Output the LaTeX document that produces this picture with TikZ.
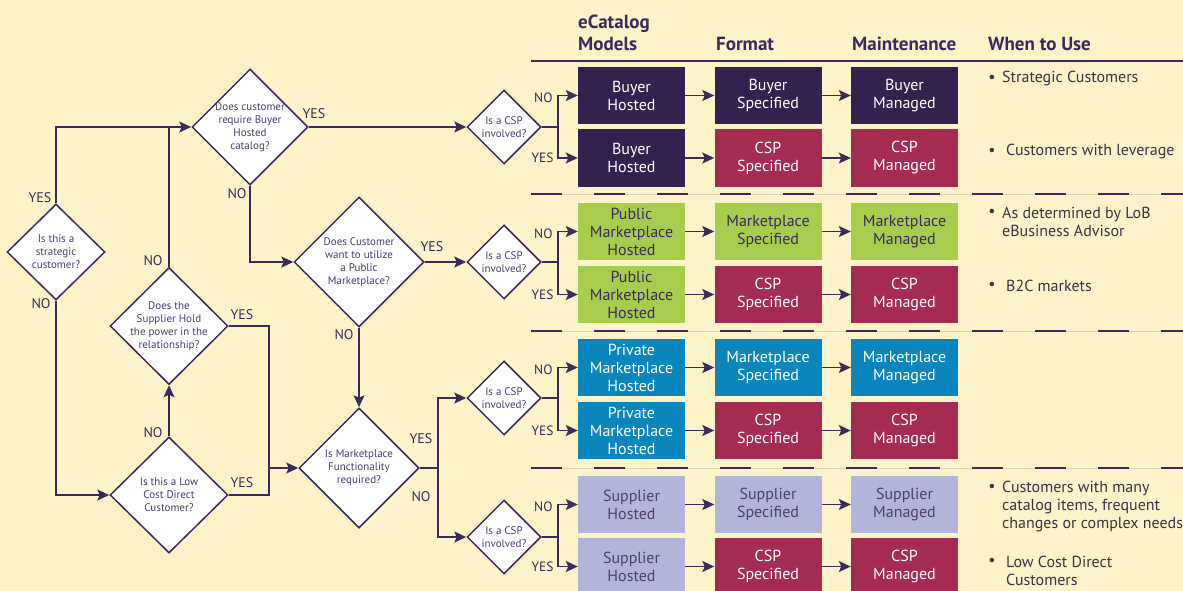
\documentclass[tikz,border=0pt]{standalone}
\usepackage{fontspec}
\setmainfont{PT Sans}
\usetikzlibrary{shapes.geometric,arrows.meta,calc}
\definecolor{bg}{HTML}{FDF3C9}
\definecolor{ln}{HTML}{3A2A5C}
\definecolor{dk}{HTML}{33214F}
\definecolor{csp}{HTML}{A52B52}
\definecolor{grn}{HTML}{A6CD4E}
\definecolor{blu}{HTML}{0A86BD}
\definecolor{lav}{HTML}{B3B4D9}
\definecolor{lavtxt}{HTML}{4B3F72}
\definecolor{dtxt}{HTML}{4B3C68}
\definecolor{bt}{HTML}{3A3340}
\definecolor{faint}{HTML}{DCD3B4}
\begin{document}
\begin{tikzpicture}[x=1pt,y=-1pt,
  line/.style={draw=ln, line width=1.5pt},
  arr/.style={line, -{Stealth[length=12pt,width=11pt,inset=2.5pt]}},
  dec/.style={diamond, draw=ln, line width=1.5pt, fill=white, inner sep=0pt},
  dtext/.style={font=\fontsize{11}{13}\selectfont, text=dtxt, align=center, inner sep=0pt},
  yn/.style={font=\fontsize{14}{16}\selectfont, text=ln, inner sep=0pt},
  yns/.style={font=\fontsize{13.5}{16}\selectfont, text=ln, inner sep=0pt, anchor=east},
  box/.style={minimum width=107pt, minimum height=57pt, inner sep=0pt, align=center, font=\fontsize{16}{18}\selectfont},
  bdk/.style={box, fill=dk, text=white},
  bcsp/.style={box, fill=csp, text=white},
  bgrn/.style={box, fill=grn, text=ln},
  bblu/.style={box, fill=blu, text=white},
  blav/.style={box, fill=lav, text=lavtxt},
  hdr/.style={font=\bfseries\fontsize{19}{22}\selectfont, text=ln, inner sep=0pt, anchor=base west},
  btext/.style={font=\fontsize{16}{18}\selectfont, text=bt, inner sep=0pt, align=left, anchor=west},
  bul/.style={font=\fontsize{16}{18}\selectfont, text=bt, inner sep=0pt},
  sep/.style={draw=ln, line width=1.5pt},
  dsep/.style={draw=ln, line width=1.6pt, dash pattern=on 31pt off 32pt}
]
\fill[bg] (0,0) rectangle (1183,591);
\useasboundingbox (0,0) rectangle (1183,591);

% headers
\node[hdr] (h0) at (578,29) {eCatalog};
\node[hdr] (h1) at (578,51) {Models};
\node[hdr] (h2) at (716,51) {Format};
\node[hdr] (h3) at (852,51) {Maintenance};
\node[hdr] (h4) at (988,51) {When to Use};

% separators
\draw[sep] (531,61) -- (1183,61);
\foreach \yy in {194,331,468}{
  \draw[draw=faint, line width=1pt] (531,\yy) -- (1183,\yy);
  \draw[dsep] (531,\yy) -- (1183,\yy);
}

% boxes
\node[bdk]  (m1a) at (631.5,95.5) {Buyer\\Hosted};
\node[bdk]  (f1a) at (768,95.5)   {Buyer\\Specified};
\node[bdk]  (t1a) at (904.5,95.5) {Buyer\\Managed};
\node[bdk]  (m1b) at (631.5,158)  {Buyer\\Hosted};
\node[bcsp] (f1b) at (768,158)    {CSP\\Specified};
\node[bcsp] (t1b) at (904.5,158)  {CSP\\Managed};

\node[bgrn] (m2a) at (631.5,231.5) {Public\\Marketplace\\Hosted};
\node[bgrn] (f2a) at (768,231.5)   {Marketplace\\Specified};
\node[bgrn] (t2a) at (904.5,231.5) {Marketplace\\Managed};
\node[bgrn] (m2b) at (631.5,294.5) {Public\\Marketplace\\Hosted};
\node[bcsp] (f2b) at (768,294.5)   {CSP\\Specified};
\node[bcsp] (t2b) at (904.5,294.5) {CSP\\Managed};

\node[bblu] (m3a) at (631.5,367.5) {Private\\Marketplace\\Hosted};
\node[bblu] (f3a) at (768,367.5)   {Marketplace\\Specified};
\node[bblu] (t3a) at (904.5,367.5) {Marketplace\\Managed};
\node[bblu] (m3b) at (631.5,430.5) {Private\\Marketplace\\Hosted};
\node[bcsp] (f3b) at (768,430.5)   {CSP\\Specified};
\node[bcsp] (t3b) at (904.5,430.5) {CSP\\Managed};

\node[blav] (m4a) at (631.5,504.5) {Supplier\\Hosted};
\node[blav] (f4a) at (768,504.5)   {Supplier\\Specified};
\node[blav] (t4a) at (904.5,504.5) {Supplier\\Managed};
\node[blav] (m4b) at (631.5,566.5) {Supplier\\Hosted};
\node[bcsp] (f4b) at (768,566.5)   {CSP\\Specified};
\node[bcsp] (t4b) at (904.5,566.5) {CSP\\Managed};

\foreach \g in {1,2,3,4}{
  \foreach \r in {a,b}{
    \draw[arr] (m\g\r) -- (f\g\r);
    \draw[arr] (f\g\r) -- (t\g\r);
  }
}

% when to use
\node[bul] (u1) at (992,79) {•};
\node[btext] (w1) at (1002,79) {Strategic Customers};
\node[bul] (u2) at (992,152) {•};
\node[btext] (w2) at (1006,152) {Customers with leverage};
\node[bul] (u3) at (992,213) {•};
\node[btext] (w3) at (1002,222) {As determined by LoB\\eBusiness Advisor};
\node[bul] (u4) at (992,286) {•};
\node[btext] (w4) at (1006,286) {B2C markets};
\node[bul] (u5) at (992,488) {•};
\node[btext] (w5) at (1002,506.5) {Customers with many\\catalog items, frequent\\changes or complex needs};
\node[bul] (u6) at (992,562) {•};
\node[btext] (w6) at (1006,571) {Low Cost Direct\\Customers};

% decision diamonds
\node[dec, minimum width=98pt, minimum height=96pt,
  label={[dtext]center:{Is this a\\strategic\\customer?}}] (d1) at (56,252) {};
\node[dec, minimum width=116pt, minimum height=116pt,
  label={[dtext]center:{Does customer\\require Buyer\\Hosted\\catalog?}}] (d2) at (250,127) {};
\node[dec, minimum width=130pt, minimum height=130pt,
  label={[dtext]center:{Does Customer\\want to utilize\\a Public\\Marketplace?}}] (d3) at (359,262) {};
\node[dec, minimum width=120pt, minimum height=120pt,
  label={[dtext]center:{Is Marketplace\\Functionality\\required?}}] (d4) at (359,468) {};
\node[dec, minimum width=118pt, minimum height=117pt,
  label={[dtext]center:{Does the\\Supplier Hold\\the power in the\\relationship?}}] (d5) at (169,326) {};
\node[dec, minimum width=118pt, minimum height=116pt,
  label={[dtext]center:{Is this a Low\\Cost Direct\\Customer?}}] (d6) at (169,495) {};

\foreach \i/\yy in {1/127,2/262,3/398,4/537}{
  \node[dec, minimum width=74pt, minimum height=74pt,
    label={[dtext]center:{Is a CSP\\involved?}}] (c\i) at (504,\yy) {};
}

% main flow connectors
\draw[arr] (d1.north) |- (d2.west);
\draw[line] (d5.north) -- (d5.north |- d2.west);
\draw[arr] (d1.south) |- (d6.west);
\draw[arr] (d6.north) -- (d5.south);
\coordinate (j1) at (269,468);
\draw[line] (d5.east) -| (j1 |- d6.east) -- (d6.east);
\draw[arr] (j1) -- (d4.west);
\draw[arr] (d2.east) -- (c1.west);
\draw[arr] (d2.south) |- (d3.west);
\draw[arr] (d3.east) -- (c2.west);
\draw[arr] (d3.south) -- (d4.north);
\coordinate (j2) at (438,468);
\draw[line] (d4.east) -- (j2);
\draw[arr] (j2) |- (c3.west);
\draw[arr] (j2) |- (c4.west);

% CSP branches
\foreach \i in {1,2,3,4}{
  \coordinate (b\i) at ($(c\i.east)+(16,0)$);
  \draw[line] (c\i.east) -- (b\i);
  \draw[arr] (b\i) |- (m\i a.west);
  \draw[arr] (b\i) |- (m\i b.west);
  \node[yns] (no\i) at ($(b\i |- m\i a.west)+(-5,2)$) {NO};
  \node[yns] (ys\i) at ($(b\i |- m\i b.west)+(-4,0)$) {YES};
}

% YES / NO labels of the main flow
\node[yn] (l1) at (40,198) {YES};
\node[yn] (l2) at (41,304) {NO};
\node[yn] (l3) at (153,261) {NO};
\node[yn] (l4) at (242,315) {YES};
\node[yn] (l5) at (153,433) {NO};
\node[yn] (l6) at (242,483) {YES};
\node[yn] (l7) at (314,114) {YES};
\node[yn] (l8) at (237,194) {NO};
\node[yn] (l9) at (432,247) {YES};
\node[yn] (l10) at (344,335) {NO};
\node[yn] (l11) at (421,439) {YES};
\node[yn] (l12) at (421,497) {NO};
\end{tikzpicture}
\end{document}
